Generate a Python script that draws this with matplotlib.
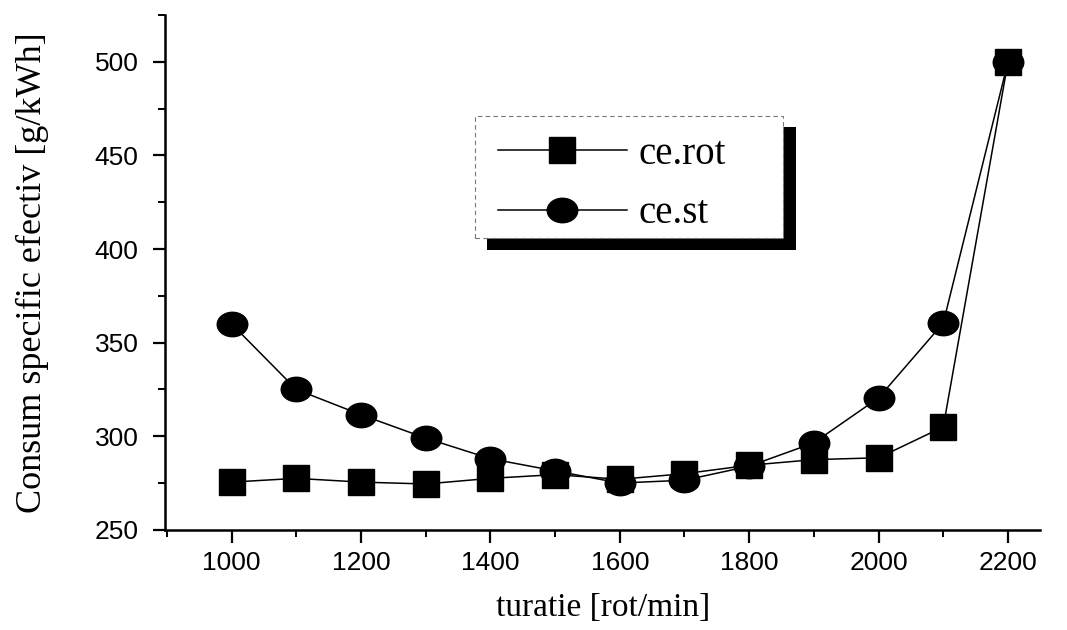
import matplotlib.pyplot as plt
from matplotlib.patches import Rectangle
from matplotlib.path import Path
from matplotlib.ticker import MultipleLocator
from matplotlib.transforms import Affine2D

turatie = [1000, 1100, 1200, 1300, 1400, 1500, 1600, 1700, 1800, 1900, 2000, 2100, 2200]
ce_rot = [275.5, 277.5, 275.5, 274.5, 277.5, 279.5, 277.0, 280.0, 284.5, 287.5, 288.5, 305.0, 500.0]
ce_st = [360.0, 325.0, 311.5, 299.0, 288.0, 281.5, 275.0, 276.5, 284.0, 296.5, 320.5, 360.5, 500.0]

SERIF = ["Liberation Serif", "DejaVu Serif"]
SANS = ["Liberation Sans", "DejaVu Sans"]

# slightly flattened circle, like the scanned markers
ellipse = Path.unit_circle().transformed(Affine2D().scale(1.0, 0.8))

fig = plt.figure(figsize=(10.67, 6.3), dpi=100)
ax = fig.add_axes([0.1546, 0.159, 0.8204, 0.817])

ax.plot(turatie, ce_rot, color="black", lw=1.1, marker="s", ms=18.5, label="ce.rot")
ax.plot(turatie, ce_st, color="black", lw=1.1, marker=ellipse, ms=22, label="ce.st")

ax.set_xlim(897, 2250)
ax.set_ylim(250, 525)
ax.xaxis.set_major_locator(MultipleLocator(200))
ax.xaxis.set_minor_locator(MultipleLocator(100))
ax.yaxis.set_major_locator(MultipleLocator(50))
ax.yaxis.set_minor_locator(MultipleLocator(25))
ax.tick_params(which="major", direction="out", length=9, width=1.6, labelsize=19)
ax.tick_params(which="minor", direction="out", length=5, width=1.4)
ax.tick_params(axis="x", which="major", pad=6)
ax.tick_params(axis="y", which="major", pad=10)
for lab in ax.get_xticklabels() + ax.get_yticklabels():
    lab.set_family(SANS)

for side in ("top", "right"):
    ax.spines[side].set_visible(False)
for side in ("left", "bottom"):
    ax.spines[side].set_linewidth(1.8)

ax.set_xlabel("turatie [rot/min]", family=SERIF, fontsize=24)
ax.set_ylabel("Consum specific efectiv [g/kWh]", family=SERIF, fontsize=26)
ax.xaxis.set_label_coords(0.5, -0.122)
ax.yaxis.set_label_coords(-0.132, 0.5)

# legend box with heavy drop shadow (pixel coords converted to figure fractions)
W, H = 1067, 630


def fig_rect(x0, y0, x1, y1, **kw):
    return Rectangle((x0 / W, 1 - y1 / H), (x1 - x0) / W, (y1 - y0) / H,
                     transform=fig.transFigure, **kw)


fig.patches.append(fig_rect(487, 127, 796, 250, facecolor="black", edgecolor="none", zorder=5))
fig.patches.append(fig_rect(475, 116, 783, 238, facecolor="white", edgecolor="#777777",
                            lw=0.8, ls=(0, (4, 3)), zorder=6))

leg = fig.legend(loc="center", bbox_to_anchor=(612 / W, 1 - 184 / H), frameon=False,
                 handlelength=3.3, handletextpad=0.3, labelspacing=0.58,
                 borderpad=0.2, prop={"family": SERIF, "size": 28})
leg.set_zorder(7)

fig.savefig("out.png", dpi=100)
